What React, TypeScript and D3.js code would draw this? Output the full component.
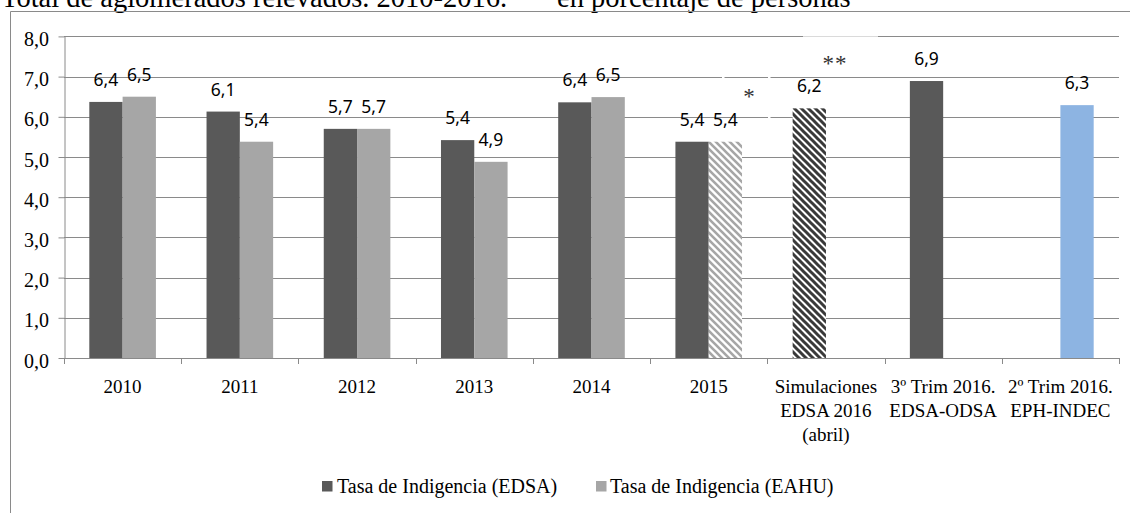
import { useEffect, useRef } from 'react';
import * as d3 from 'd3';

const categories = [
  '2010',
  '2011',
  '2012',
  '2013',
  '2014',
  '2015',
  'Simulaciones\nEDSA 2016\n(abril)',
  '3º Trim 2016.\nEDSA-ODSA',
  '2º Trim 2016.\nEPH-INDEC',
];
const edsaValues: (number | null)[] = [6.37, 6.13, 5.7, 5.42, 6.36, 5.38, 6.21, 6.89, null];
const eahuValues: (number | null)[] = [6.5, 5.38, 5.7, 4.88, 6.49, 5.38, null, null, 6.29];
const yTicks = [0, 1, 2, 3, 4, 5, 6, 7, 8];
const seriesKeys = ['EDSA', 'EAHU'];
const seriesNames = ['Tasa de Indigencia (EDSA)', 'Tasa de Indigencia (EAHU)'];

const WIDTH = 1130;
const HEIGHT = 513;
const SERIF = "'Liberation Serif', 'Times New Roman', serif";
const SANS = "'Noto Sans', 'Open Sans', sans-serif";
const GRID = '#8a8a8a';
const DARK = '#595959';
const LIGHT = '#a6a6a6';
const BLUE = '#8db4e2';

const fmt = (v: number) => d3.format('.1f')(v).replace('.', ',');

function barFill(cat: string, key: string): string {
  if (cat === '2015' && key === 'EAHU') return 'url(#hatchLight)';
  if (cat.startsWith('Simulaciones') && key === 'EDSA') return 'url(#hatchDark)';
  if (cat.startsWith('2º Trim')) return BLUE;
  return key === 'EDSA' ? DARK : LIGHT;
}

export default function App() {
  const svgRef = useRef<SVGSVGElement>(null);

  useEffect(() => {
    if (!svgRef.current) return;
    const svg = d3.select(svgRef.current);
    svg.selectAll('*').remove();

    const left = 64;
    const right = 1119;
    const top = 36.4;
    const bottom = 358;

    const x0 = d3.scaleBand<string>().domain(categories).range([left, right]).padding(0);
    const x1 = d3
      .scaleBand<string>()
      .domain(seriesKeys)
      .range([0, x0.bandwidth()])
      .paddingInner(0)
      .paddingOuter(0.76);
    const y = d3.scaleLinear().domain([0, 8]).range([bottom, top]);

    // hatch patterns
    const defs = svg.append('defs');
    const addHatch = (id: string, color: string, sw: number) => {
      const s = 7;
      const p = defs
        .append('pattern')
        .attr('id', id)
        .attr('patternUnits', 'userSpaceOnUse')
        .attr('width', s)
        .attr('height', s);
      p.append('rect').attr('width', s).attr('height', s).attr('fill', '#fff');
      p.append('path')
        .attr('d', `M-1,-1 L${s + 1},${s + 1} M-${s / 2},${s / 2} L${s / 2},${s * 1.5} M${s / 2},-${s / 2} L${s * 1.5},${s / 2}`)
        .attr('stroke', color)
        .attr('stroke-width', sw);
    };
    addHatch('hatchLight', LIGHT, 2.6);
    addHatch('hatchDark', '#3a3a3a', 3);

    svg.append('rect').attr('width', WIDTH).attr('height', HEIGHT).attr('fill', '#fff');

    // title (partly cut off at the top, as in the source)
    svg
      .append('text')
      .attr('x', 1)
      .attr('y', 7)
      .attr('font-family', SERIF)
      .attr('font-size', 28.5)
      .text('Total de aglomerados relevados. 2010-2016.');
    svg
      .append('text')
      .attr('x', 557)
      .attr('y', 7)
      .attr('font-family', SERIF)
      .attr('font-size', 28.5)
      .text('en porcentaje de personas');

    // outer frame
    svg
      .append('path')
      .attr('d', `M10.5,${HEIGHT} V11.5 H${WIDTH}`)
      .attr('fill', 'none')
      .attr('stroke', GRID)
      .attr('stroke-width', 1);

    // gridlines
    svg
      .append('g')
      .selectAll('line')
      .data(yTicks)
      .join('line')
      .attr('x1', left)
      .attr('x2', right)
      .attr('y1', (d) => Math.round(y(d)) + 0.5)
      .attr('y2', (d) => Math.round(y(d)) + 0.5)
      .attr('stroke', GRID)
      .attr('stroke-width', 1);

    // y axis
    svg
      .append('g')
      .attr('transform', `translate(${left + 0.5},0)`)
      .call(
        d3
          .axisLeft(y)
          .tickValues(yTicks)
          .tickSize(6)
          .tickSizeOuter(0)
          .tickPadding(9.5)
          .tickFormat((d) => fmt(Number(d)))
      )
      .call((g) => {
        g.select('.domain').attr('stroke', GRID);
        g.selectAll('.tick line').attr('stroke', GRID);
        g.selectAll('.tick text')
          .attr('fill', '#000')
          .attr('font-family', SERIF)
          .attr('font-size', 20)
          .attr('dy', '0.45em');
      });

    // category boundary ticks
    const bounds = [...categories.map((c) => x0(c) ?? 0), right];
    svg
      .append('g')
      .selectAll('line')
      .data(bounds)
      .join('line')
      .attr('x1', (d) => Math.round(d) + 0.5)
      .attr('x2', (d) => Math.round(d) + 0.5)
      .attr('y1', bottom)
      .attr('y2', bottom + 6)
      .attr('stroke', GRID);

    // category labels
    const catG = svg
      .append('g')
      .selectAll('text')
      .data(categories)
      .join('text')
      .attr('x', (c) => (x0(c) ?? 0) + x0.bandwidth() / 2)
      .attr('y', 393)
      .attr('text-anchor', 'middle')
      .attr('font-family', SERIF)
      .attr('font-size', 19)
      .attr('fill', '#000');
    catG.each(function (c) {
      const t = d3.select(this);
      c.split('\n').forEach((line, i) => {
        t.append('tspan')
          .attr('x', (x0(c) ?? 0) + x0.bandwidth() / 2)
          .attr('dy', i === 0 ? 0 : 24)
          .text(line);
      });
    });

    // bars
    const rows = categories
      .flatMap((cat, i) =>
        seriesKeys.map((key) => ({
          cat,
          key,
          value: key === 'EDSA' ? edsaValues[i] : eahuValues[i],
        }))
      )
      .filter((r) => r.value !== null) as { cat: string; key: string; value: number }[];

    svg
      .append('g')
      .selectAll('rect')
      .data(rows)
      .join('rect')
      .attr('x', (r) => (x0(r.cat) ?? 0) + (x1(r.key) ?? 0))
      .attr('y', (r) => y(r.value))
      .attr('width', x1.bandwidth())
      .attr('height', (r) => bottom - y(r.value))
      .attr('fill', (r) => barFill(r.cat, r.key));

    // data labels
    svg
      .append('g')
      .selectAll('text')
      .data(rows)
      .join('text')
      .attr('x', (r) => (x0(r.cat) ?? 0) + (x1(r.key) ?? 0) + x1.bandwidth() / 2)
      .attr('y', (r) => y(r.value) - 16)
      .attr('text-anchor', 'middle')
      .attr('font-family', SANS)
      .attr('font-size', 17.5)
      .attr('fill', '#000')
      .text((r) => fmt(r.value));

    // footnote marks (text boxes)
    svg
      .append('line')
      .attr('x1', 803)
      .attr('x2', 878)
      .attr('y1', Math.round(y(8)) + 0.5)
      .attr('y2', Math.round(y(8)) + 0.5)
      .attr('stroke', '#dadada')
      .attr('stroke-width', 1.2);
    [
      [722, y(7)],
      [768, y(7)],
      [768, y(6)],
    ].forEach(([gx, gy]) => {
      svg
        .append('rect')
        .attr('x', gx)
        .attr('y', Math.round(gy) - 1)
        .attr('width', 2.5)
        .attr('height', 3)
        .attr('fill', '#fff');
    });
    svg
      .append('text')
      .attr('x', 749)
      .attr('y', 104)
      .attr('text-anchor', 'middle')
      .attr('font-family', SERIF)
      .attr('font-size', 23)
      .attr('fill', '#333')
      .text('*');
    svg
      .append('text')
      .attr('x', 835)
      .attr('y', 70.5)
      .attr('text-anchor', 'middle')
      .attr('font-family', SERIF)
      .attr('font-size', 23)
      .attr('letter-spacing', 1)
      .attr('fill', '#333')
      .text('**');

    // legend
    const legend = [
      { name: seriesNames[0], color: DARK, sx: 322, tx: 337 },
      { name: seriesNames[1], color: LIGHT, sx: 596, tx: 610 },
    ];
    const lg = svg.append('g');
    legend.forEach((l) => {
      lg.append('rect')
        .attr('x', l.sx)
        .attr('y', 481)
        .attr('width', 10.5)
        .attr('height', 10.5)
        .attr('fill', l.color);
      lg.append('text')
        .attr('x', l.tx)
        .attr('y', 493)
        .attr('font-family', SERIF)
        .attr('font-size', 20)
        .attr('fill', '#000')
        .text(l.name);
    });
  }, []);

  return (
    <div style={{ position: 'fixed', left: 0, top: 0 }}>
      <svg
        ref={svgRef}
        width={WIDTH}
        height={HEIGHT}
        style={{ display: 'block', fontFamily: SERIF }}
      />
    </div>
  );
}
